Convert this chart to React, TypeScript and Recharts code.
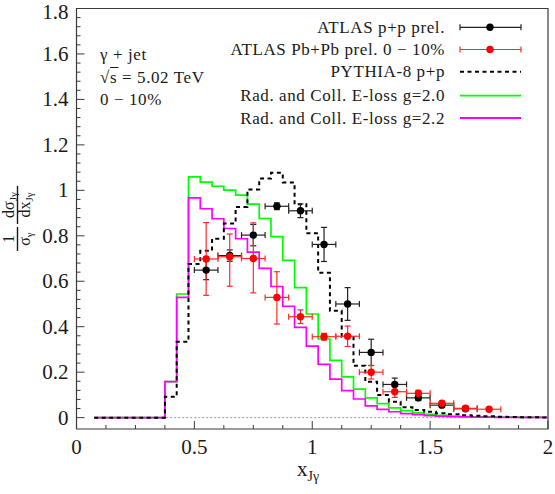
import React from 'react'
import {
  ComposedChart,
  Line,
  Scatter,
  ErrorBar,
  XAxis,
  YAxis,
  ReferenceLine,
  ReferenceArea,
} from 'recharts'

// lower bin edges of the model histograms
const binLow = [
  0.075, 0.125, 0.175, 0.225, 0.275, 0.325, 0.375, 0.425, 0.475, 0.525, 0.575, 0.625, 0.675,
  0.725, 0.775, 0.825, 0.875, 0.925, 0.975, 1.025, 1.075, 1.125, 1.175, 1.225, 1.275, 1.325,
  1.375, 1.425, 1.475, 1.525, 1.575, 1.625, 1.675, 1.725, 1.775, 1.825, 1.875, 1.925, 1.975,
]
const lastEdge = 2

const eLossG20 = [
  0, 0, 0, 0, 0, 0, 0.158, 0.544, 1.059, 1.036, 1.018, 1.001, 0.979, 0.939, 0.876, 0.796, 0.692,
  0.572, 0.456, 0.346, 0.252, 0.179, 0.125, 0.087, 0.062, 0.043, 0.031, 0.021, 0.014, 0.01, 0.007,
  0.005, 0.004, 0.003, 0.002, 0.002, 0.001, 0.001, 0.001,
]
const eLossG22 = [
  0, 0, 0, 0, 0, 0, 0.158, 0.529, 0.967, 0.919, 0.875, 0.832, 0.787, 0.728, 0.657, 0.577, 0.49,
  0.397, 0.315, 0.234, 0.169, 0.119, 0.082, 0.052, 0.036, 0.026, 0.018, 0.013, 0.009, 0.006, 0.004,
  0.003, 0.002, 0.002, 0.001, 0.001, 0.001, 0.001, 0.001,
]
const pythia = [
  0, 0, 0, 0, 0, 0, 0.092, 0.334, 0.676, 0.734, 0.787, 0.854, 0.927, 1.004, 1.052, 1.077, 1.035,
  0.939, 0.811, 0.637, 0.47, 0.355, 0.228, 0.158, 0.1, 0.07, 0.046, 0.034, 0.026, 0.019, 0.015,
  0.011, 0.008, 0.006, 0.004, 0.003, 0.002, 0.002, 0.001,
]

// ATLAS p+p prel.
const ppX = [0.55, 0.65, 0.75, 0.85, 0.95, 1.05, 1.15, 1.25, 1.35, 1.45, 1.55, 1.65]
const ppY = [0.649, 0.713, 0.803, 0.93, 0.91, 0.762, 0.5, 0.287, 0.146, 0.087, 0.055, 0.039]
const ppErr = [0.042, 0.025, 0.047, 0.015, 0.03, 0.075, 0.072, 0.058, 0.028, 0.012, 0.01, 0.008]

// ATLAS Pb+Pb prel. 0-10%
const pbX = [0.55, 0.65, 0.75, 0.85, 0.95, 1.05, 1.15, 1.25, 1.35, 1.45, 1.55, 1.65, 1.75]
const pbY = [0.698, 0.708, 0.7, 0.529, 0.444, 0.356, 0.358, 0.2, 0.114, 0.107, 0.063, 0.041, 0.037]
const pbErrLow = [0.16, 0.13, 0.151, 0.117, 0.03, 0.015, 0.045, 0.03, 0.025, 0.013, 0.01, 0.006, 0.006]
const pbErrHigh = [0.16, 0.1, 0.157, 0.113, 0.03, 0.015, 0.045, 0.03, 0.025, 0.013, 0.01, 0.006, 0.006]
const halfBin = 0.05

const xMajor = [0, 0.5, 1, 1.5, 2]
const xMajorLabels = ['0', '0.5', '1', '1.5', '2']
const yMajor = [0, 0.2, 0.4, 0.6, 0.8, 1, 1.2, 1.4, 1.6, 1.8]
const yMajorLabels = ['0', '0.2', '0.4', '0.6', '0.8', '1', '1.2', '1.4', '1.6', '1.8']

const xTicks = Array.from({ length: 17 }, (_, i) => i * 0.125)
const yTicks = Array.from({ length: 46 }, (_, i) => Math.round(i * 4) / 100)

const FONT = '"Liberation Serif", "DejaVu Serif", serif'
const FRAME = '#3a3a3a'
const TEXT = '#1a1a1a'

function histo(values: number[]) {
  const pts = binLow.map((x, i) => ({ x, y: values[i] }))
  pts.push({ x: lastEdge, y: values[values.length - 1] })
  return pts
}

const ppData = ppX.map((x, i) => ({ x, y: ppY[i], ex: halfBin, ey: ppErr[i] }))
const pbData = pbX.map((x, i) => ({
  x,
  y: pbY[i],
  ex: halfBin,
  ey: [pbErrLow[i], pbErrHigh[i]],
}))

function XTick(props: any) {
  const { x, y, payload } = props
  const v = payload.value
  const idx = xMajor.findIndex((m) => Math.abs(m - v) < 1e-6)
  const major = idx >= 0
  return (
    <g>
      <line x1={x} x2={x} y1={y} y2={y - (major ? 8 : 4)} stroke={FRAME} strokeWidth={1} />
      {major && (
        <text x={x} y={y + 24.5} textAnchor="middle" fontFamily={FONT} fontSize={21} fill={TEXT}>
          {xMajorLabels[idx]}
        </text>
      )}
    </g>
  )
}

function YTick(props: any) {
  const { x, y, payload } = props
  const v = payload.value
  const idx = yMajor.findIndex((m) => Math.abs(m - v) < 1e-6)
  const major = idx >= 0
  // keep the top label's glyph box inside the picture
  const base = Math.max(y + 7, 19)
  return (
    <g>
      <line x1={x} x2={x + (major ? 8 : 4)} y1={y} y2={y} stroke={FRAME} strokeWidth={1} />
      {major && (
        <text x={x - 8} y={base} textAnchor="end" fontFamily={FONT} fontSize={21} fill={TEXT}>
          {yMajorLabels[idx]}
        </text>
      )}
    </g>
  )
}

const dot = (fill: string) => (p: any) => <circle cx={p.cx} cy={p.cy} r={3.7} fill={fill} />

function Overlay() {
  const lx1 = 460
  const lx2 = 521
  const lmid = 490
  const rows = [27.3, 49.5, 71.8, 95.7, 118]
  const tx = 445
  const fs = 17
  const ls = 0.6
  return (
    <svg
      width={555}
      height={494}
      style={{ position: 'absolute', left: 0, top: 0, pointerEvents: 'none', overflow: 'visible' }}
    >
      <g fontFamily={FONT} fontSize={fs} fill={TEXT} letterSpacing={ls}>
        <text x={tx} y={rows[0] + 5.5} textAnchor="end">ATLAS p+p prel.</text>
        <text x={tx} y={rows[1] + 5.5} textAnchor="end">ATLAS Pb+Pb prel. 0 − 10%</text>
        <text x={tx} y={rows[2] + 5.5} textAnchor="end">PYTHIA-8 p+p</text>
        <text x={tx} y={rows[3] + 5.5} textAnchor="end">Rad. and Coll. E-loss g=2.0</text>
        <text x={tx} y={rows[4] + 5.5} textAnchor="end">Rad. and Coll. E-loss g=2.2</text>

        <text x={100} y={60}>γ + jet</text>
        <text x={100} y={82.5}>√s = 5.02 TeV</text>
        <text x={100} y={104.5}>0 − 10%</text>
      </g>
      {/* radical bar over s */}
      <line x1={110} x2={118.5} y1={67.5} y2={67.5} stroke={TEXT} strokeWidth={1} />

      {/* legend samples */}
      <g stroke="#222" strokeWidth={1.2}>
        <line x1={lx1} x2={lx2} y1={rows[0]} y2={rows[0]} />
        <line x1={lx1} x2={lx1} y1={rows[0] - 3} y2={rows[0] + 3} />
        <line x1={lx2} x2={lx2} y1={rows[0] - 3} y2={rows[0] + 3} />
      </g>
      <circle cx={lmid} cy={rows[0]} r={3.7} fill="#000" />
      <g stroke="#ff2a2a" strokeWidth={1.2}>
        <line x1={lx1} x2={lx2} y1={rows[1]} y2={rows[1]} />
        <line x1={lx1} x2={lx1} y1={rows[1] - 3} y2={rows[1] + 3} />
        <line x1={lx2} x2={lx2} y1={rows[1] - 3} y2={rows[1] + 3} />
      </g>
      <circle cx={lmid} cy={rows[1]} r={3.7} fill="#ff0000" />
      <line x1={lx1} x2={lx2} y1={rows[2]} y2={rows[2]} stroke="#000" strokeWidth={2} strokeDasharray="4 3.5" />
      <line x1={lx1} x2={lx2} y1={rows[3]} y2={rows[3]} stroke="#00ff00" strokeWidth={1.8} />
      <line x1={lx1} x2={lx2} y1={rows[4]} y2={rows[4]} stroke="#ff00ff" strokeWidth={1.8} />

      {/* x axis title */}
      <text x={297} y={476} fontFamily={FONT} fontSize={21} fill={TEXT}>
        x
        <tspan fontSize={14} dy={5}>Jγ</tspan>
      </text>

      {/* y axis title: 1/σγ dσJγ/dxJγ */}
      <g transform="translate(17.5,0) rotate(-90)" fontFamily={FONT} fill={TEXT}>
        <text x={-239} y={-3.5} textAnchor="middle" fontSize={16}>1</text>
        <line x1={-251} x2={-227} y1={0} y2={0} stroke={TEXT} strokeWidth={1.4} />
        <text x={-239} y={12.5} textAnchor="middle" fontSize={16}>
          σ<tspan fontSize={11} dy={3}>γ</tspan>
        </text>
        <text x={-205} y={-3.5} textAnchor="middle" fontSize={16}>
          dσ<tspan fontSize={11} dy={3}>Jγ</tspan>
        </text>
        <line x1={-224} x2={-186} y1={0} y2={0} stroke={TEXT} strokeWidth={1.4} />
        <text x={-205} y={12.5} textAnchor="middle" fontSize={16}>
          dx<tspan fontSize={11} dy={3}>Jγ</tspan>
        </text>
      </g>
    </svg>
  )
}

export default function App() {
  return (
    <div style={{ position: 'absolute', left: 0, top: 0, width: 555, height: 494 }}>
      <ComposedChart
        width={555}
        height={494}
        margin={{ top: 8.5, right: 7, bottom: 0, left: 0 }}
        style={{ overflow: 'visible' }}
      >
        <XAxis
          type="number"
          dataKey="x"
          domain={[0, 2]}
          ticks={xTicks}
          interval={0}
          height={65}
          tickSize={0}
          tickMargin={0}
          axisLine={false}
          tickLine={false}
          tick={<XTick />}
          allowDataOverflow
        />
        <YAxis
          type="number"
          dataKey="y"
          domain={[-0.05, 1.8]}
          ticks={yTicks}
          interval={0}
          width={76.5}
          tickSize={0}
          tickMargin={0}
          axisLine={false}
          tickLine={false}
          tick={<YTick />}
          allowDataOverflow
        />
        <ReferenceLine
          segment={[
            { x: binLow[0], y: 0 },
            { x: lastEdge, y: 0 },
          ]}
          stroke="#9a9a9a"
          strokeDasharray="2 2"
          ifOverflow="visible"
        />
        <Line
          data={histo(eLossG20)}
          dataKey="y"
          type="stepAfter"
          stroke="#00ff00"
          strokeWidth={1.7}
          dot={false}
          activeDot={false}
          isAnimationActive={false}
        />
        <Line
          data={histo(eLossG22)}
          dataKey="y"
          type="stepAfter"
          stroke="#ff00ff"
          strokeWidth={1.7}
          dot={false}
          activeDot={false}
          isAnimationActive={false}
        />
        <Line
          data={histo(pythia)}
          dataKey="y"
          type="stepAfter"
          stroke="#000"
          strokeWidth={2}
          strokeDasharray="4 3.5"
          dot={false}
          activeDot={false}
          isAnimationActive={false}
        />
        <Scatter data={ppData} dataKey="y" shape={dot('#000')} isAnimationActive={false}>
          <ErrorBar dataKey="ex" direction="x" width={3} stroke="#222" strokeWidth={1.2} />
          <ErrorBar dataKey="ey" direction="y" width={3} stroke="#222" strokeWidth={1.2} />
        </Scatter>
        <Scatter data={pbData} dataKey="y" shape={dot('#ff0000')} isAnimationActive={false}>
          <ErrorBar dataKey="ex" direction="x" width={3} stroke="#ff2a2a" strokeWidth={1.2} />
          <ErrorBar dataKey="ey" direction="y" width={3} stroke="#ff2a2a" strokeWidth={1.2} />
        </Scatter>
        <ReferenceArea
          x1={0}
          x2={2}
          y1={-0.05}
          y2={1.8}
          fill="none"
          stroke={FRAME}
          strokeWidth={1.2}
          ifOverflow="visible"
        />
      </ComposedChart>
      <Overlay />
    </div>
  )
}
